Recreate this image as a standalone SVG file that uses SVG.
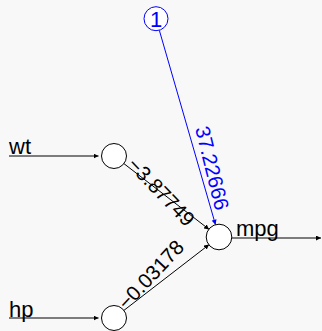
<svg xmlns="http://www.w3.org/2000/svg" width="322" height="331" viewBox="0 0 322 331">
  <defs>
    <marker id="ah" viewBox="0 0 10 10" refX="10" refY="5" markerWidth="5" markerHeight="5" markerUnits="userSpaceOnUse" orient="auto">
      <path d="M0,0 L10,5 L0,10 z" fill="#000"/>
    </marker>
    <marker id="ahb" viewBox="0 0 10 10" refX="10" refY="5" markerWidth="5" markerHeight="5" markerUnits="userSpaceOnUse" orient="auto">
      <path d="M0,0 L10,5 L0,10 z" fill="#0000ff"/>
    </marker>
  </defs>
  <style>
    .node { fill: #ffffff; stroke: #000000; stroke-width: 1; }
    .bias { fill: #ffffff; stroke: #0000ff; stroke-width: 1; }
    .lbl { font-family: "Liberation Sans", Arial, sans-serif; font-size: 22px; fill: #000000; }
    .w { font-family: "Liberation Sans", Arial, sans-serif; font-size: 20.5px; fill: #000000; text-anchor: middle; dominant-baseline: central; }
    .wb { fill: #0000ff; }
    .c { stroke: #000000; stroke-width: 1; fill: none; marker-end: url(#ah); }
    .cb { stroke: #0000ff; stroke-width: 1; fill: none; marker-end: url(#ahb); }
  </style>
  <rect x="0" y="0" width="322" height="331" fill="#f8f8f8"/>
  <g id="connectors">
    <line class="c" x1="9" y1="156" x2="98.5" y2="156"/>
    <line class="c" x1="9" y1="318" x2="98.5" y2="318"/>
    <line class="c" x1="123.9" y1="163.6" x2="209.1" y2="229.4"/>
    <line class="c" x1="123.9" y1="310.4" x2="209.1" y2="244.6"/>
    <line class="cb" x1="159.3" y1="30.2" x2="215.5" y2="224.7"/>
    <line class="c" x1="232" y1="238" x2="321" y2="238"/>
    <text class="w" transform="translate(161.5,191.5) rotate(46)">−3.87749</text>
    <text class="w wb" transform="translate(212.5,168) rotate(76)">37.22666</text>
    <text class="w" transform="translate(150.5,274.5) rotate(-47)">−0.03178</text>
  </g>
  <g id="node-wt">
    <circle class="node" cx="114" cy="156" r="12.5"/>
    <text class="lbl" x="9" y="154.3">wt</text>
  </g>
  <g id="node-hp">
    <circle class="node" cx="114" cy="318" r="12.5"/>
    <text class="lbl" x="9" y="317">hp</text>
  </g>
  <g id="node-mpg">
    <circle class="node" cx="219" cy="237" r="12.8"/>
    <text class="lbl" x="236" y="235.5">mpg</text>
  </g>
  <g id="node-bias">
    <circle class="bias" cx="156" cy="18.7" r="12"/>
    <text class="lbl" x="156" y="26.5" text-anchor="middle" style="fill:#0000ff">1</text>
  </g>
</svg>
